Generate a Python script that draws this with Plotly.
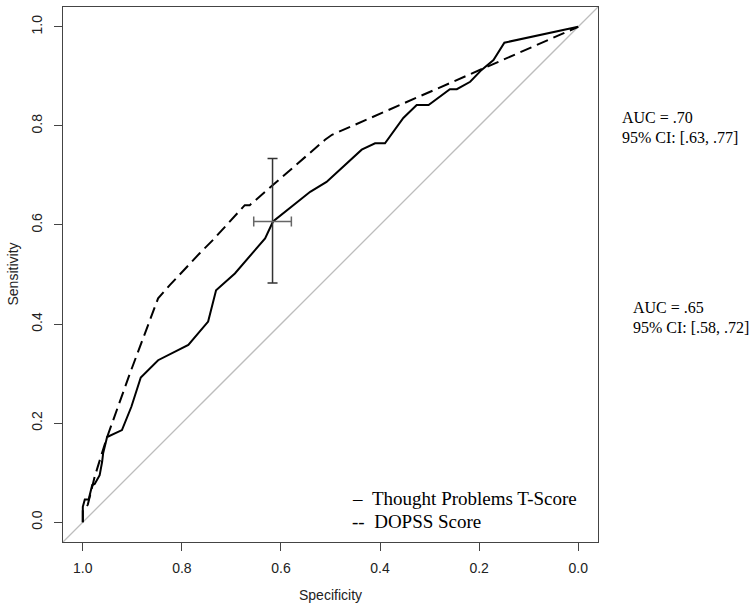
import plotly.graph_objects as go

# Thought Problems T-Score ROC curve
tp_spec = [1.0, 1.0, 0.996, 0.988, 0.986, 0.981, 0.976, 0.966, 0.961, 0.959, 0.951, 0.921,
           0.902, 0.883, 0.848, 0.787, 0.747, 0.731, 0.693, 0.632, 0.616, 0.541, 0.508,
           0.461, 0.437, 0.41, 0.39, 0.353, 0.326, 0.302, 0.259, 0.245, 0.218, 0.195,
           0.171, 0.149, 0.0]
tp_sens = [0.0, 0.031, 0.046, 0.046, 0.055, 0.075, 0.077, 0.095, 0.122, 0.139, 0.172, 0.186,
           0.233, 0.292, 0.327, 0.358, 0.405, 0.468, 0.502, 0.573, 0.607, 0.667, 0.687,
           0.731, 0.752, 0.765, 0.765, 0.816, 0.842, 0.842, 0.874, 0.874, 0.889, 0.913,
           0.933, 0.968, 1.0]

# DOPSS Score ROC curve
dp_spec = [1.0, 1.0, 0.99, 0.976, 0.953, 0.905, 0.848, 0.824, 0.764, 0.737, 0.673, 0.663,
           0.511, 0.497, 0.0]
dp_sens = [0.0, 0.025, 0.035, 0.092, 0.166, 0.30, 0.452, 0.479, 0.543, 0.57, 0.64, 0.64,
           0.772, 0.782, 1.0]

# Confidence cross at the chosen threshold
ci_spec = [0.617]
ci_sens = [0.607]
ci_sens_up = [0.127]
ci_sens_down = [0.124]
ci_spec_left = [0.038]
ci_spec_right = [0.038]

x_ticks = [1.0, 0.8, 0.6, 0.4, 0.2, 0.0]
y_ticks = [0.0, 0.2, 0.4, 0.6, 0.8, 1.0]
tick_text = ["1.0", "0.8", "0.6", "0.4", "0.2", "0.0"]
ytick_text = ["0.0", "0.2", "0.4", "0.6", "0.8", "1.0"]

legend_labels = ["\u2013\u00a0\u00a0Thought Problems T-Score", "--\u00a0\u00a0DOPSS Score"]
auc_labels = [("AUC = .70", "95% CI: [.63, .77]"), ("AUC = .65", "95% CI: [.58, .72]")]

fig = go.Figure()

fig.add_trace(go.Scatter(x=dp_spec, y=dp_sens, mode="lines",
                         line=dict(color="black", width=2, dash="12px,6px"),
                         showlegend=False, hoverinfo="skip"))
fig.add_trace(go.Scatter(x=tp_spec, y=tp_sens, mode="lines",
                         line=dict(color="black", width=2),
                         showlegend=False, hoverinfo="skip"))
fig.add_trace(go.Scatter(x=ci_spec, y=ci_sens, mode="markers",
                         marker=dict(size=1, color="rgba(0,0,0,0)"),
                         error_y=dict(type="data", symmetric=False, array=ci_sens_up,
                                      arrayminus=ci_sens_down, color="#333", thickness=1.5, width=5),
                         error_x=dict(type="data", symmetric=False, array=ci_spec_left,
                                      arrayminus=ci_spec_right, color="#666", thickness=1.5, width=5),
                         showlegend=False, hoverinfo="skip"))

# diagonal reference line corner to corner
fig.add_shape(type="line", xref="x domain", yref="y domain", x0=0, y0=0, x1=1, y1=1,
              line=dict(color="#bdbdbd", width=1.3), layer="below")

axis_font = dict(family="Liberation Sans, Arial, sans-serif", size=14, color="#222")
fig.update_xaxes(range=[1.04, -0.04], tickvals=x_ticks, ticktext=tick_text,
                 ticks="outside", ticklen=8, tickcolor="#444", tickwidth=1,
                 showline=True, linecolor="#444", linewidth=1, mirror=True,
                 showgrid=False, zeroline=False, tickfont=axis_font, ticklabelstandoff=5)
fig.update_yaxes(range=[-0.04, 1.04], tickvals=y_ticks, ticktext=ytick_text,
                 ticks="outside", ticklen=8, tickcolor="#444", tickwidth=1,
                 showline=True, linecolor="#444", linewidth=1, mirror=True,
                 showgrid=False, zeroline=False, tickfont=axis_font, tickangle=-90,
                 ticklabelstandoff=6)

W, H = 754, 610
L, R, T, B = 63, 156, 7, 68
pw, ph = W - L - R, H - T - B


def px(xp):
    return (xp - L) / pw


def py(yp):
    return (H - B - yp) / ph


serif = dict(family="Liberation Serif, Times New Roman, serif", color="black")
ann = []
ann.append(dict(text="Specificity", x=0.5, y=py(595), xref="paper", yref="paper",
                showarrow=False, font=axis_font, xanchor="center", yanchor="middle"))
ann.append(dict(text="Sensitivity", x=px(12), y=0.5, xref="paper", yref="paper",
                showarrow=False, font=axis_font, textangle=-90, xanchor="center", yanchor="middle"))
for lab, yy in zip(legend_labels, [498, 521]):
    ann.append(dict(text=lab, x=px(350), y=py(yy), xref="paper", yref="paper", showarrow=False,
                    font=dict(size=19, **serif), xanchor="left", yanchor="middle"))
for (a, c), xx, yy in zip(auc_labels, [620, 631], [117, 307]):
    ann.append(dict(text=a, x=px(xx), y=py(yy), xref="paper", yref="paper", showarrow=False,
                    font=dict(size=16, **serif), xanchor="left", yanchor="middle"))
    ann.append(dict(text=c, x=px(xx), y=py(yy + 20), xref="paper", yref="paper", showarrow=False,
                    font=dict(size=16, **serif), xanchor="left", yanchor="middle"))

fig.update_layout(width=W, height=H, margin=dict(l=L, r=R, t=T, b=B, autoexpand=False),
                  paper_bgcolor="white", plot_bgcolor="white", annotations=ann,
                  showlegend=False)

fig.write_html("out.html", config={"displayModeBar": False},
               post_script="document.body.style.margin='0';document.body.style.padding='0';")
